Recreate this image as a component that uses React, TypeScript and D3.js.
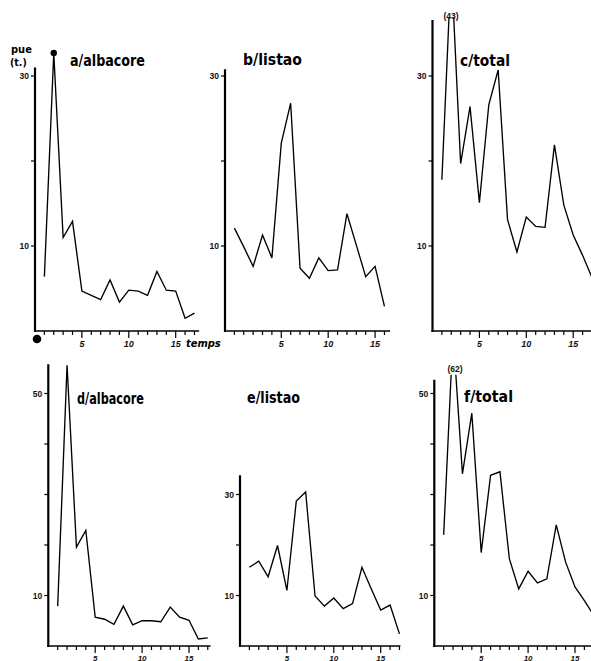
import React from "react";
import * as d3 from "d3";

// ---- data ----
const periods = [1, 2, 3, 4, 5, 6, 7, 8, 9, 10, 11, 12, 13, 14, 15, 16, 17];
const periodsB = [0, 1, 2, 3, 4, 5, 6, 7, 8, 9, 10, 11, 12, 13, 14, 15, 16];

const albacoreA = [6.4, 32.7, 11.0, 12.9, 4.7, 4.2, 3.7, 6.0, 3.4, 4.8, 4.7, 4.2, 7.0, 4.8, 4.7, 1.5, 2.1];
const listaoB = [12.1, 9.9, 7.6, 11.3, 8.6, 22.1, 26.8, 7.4, 6.2, 8.6, 7.1, 7.2, 13.8, 10.1, 6.4, 7.6, 2.9];
const totalC = [17.8, 43, 19.7, 26.4, 15.1, 26.6, 30.7, 13.1, 9.3, 13.4, 12.3, 12.2, 21.9, 14.8, 11.3, 8.9, 6.3];
const albacoreD = [7.9, 55.6, 19.6, 22.9, 5.7, 5.3, 4.3, 7.9, 4.2, 5.0, 5.0, 4.8, 7.7, 5.7, 5.1, 1.4, 1.6];
const listaoE = [15.6, 16.8, 13.7, 19.9, 11.0, 28.7, 30.5, 9.9, 7.9, 9.5, 7.4, 8.4, 15.6, 11.3, 7.1, 8.1, 2.4];
const totalF = [22.0, 62, 34.1, 46.1, 18.5, 33.8, 34.5, 17.3, 11.3, 14.8, 12.5, 13.3, 24.0, 16.6, 11.7, 9.0, 6.1];

const titles = ["a/albacore", "b/listao", "c/total", "d/albacore", "e/listao", "f/total"];
const yTicksTop = [10, 20, 30];
const yTicksBottomWide = [10, 20, 30, 40, 50];
const yLabelsTop = [10, 30];
const yLabelsBottom = [10, 50];
const yLabelsE = [10, 30];
const xLabelTicks = [5, 10, 15];
const peakLabels = ["(43)", "(62)"];

// ---- layout ----
const W = 591;
const H = 661;
const UNIT = 9.38;

type Panel = {
  id: string;
  title: string;
  times: number[];
  values: number[];
  axisX: number;
  xStart: number;
  xLen: number;
  y0: number;
  pxPerUnit: number;
  yMax: number;
  yTicks: number[];
  yLabels: number[];
  titlePos: [number, number, number];
  clipTop?: number;
  peakLabel?: string;
  peakLabelPos?: [number, number];
  tickLabelY: number;
  tickLabelSize: number;
};

const panels: Panel[] = [
  { id: "a", title: titles[0], times: periods, values: albacoreA, axisX: 35, xStart: 0, xLen: 17.5, y0: 331, pxPerUnit: 8.5, yMax: 31, yTicks: yTicksTop, yLabels: yLabelsTop, titlePos: [70, 66, 75], tickLabelY: 347, tickLabelSize: 9 },
  { id: "b", title: titles[1], times: periodsB, values: listaoB, axisX: 225, xStart: -1, xLen: 17.6, y0: 331, pxPerUnit: 8.5, yMax: 30.8, yTicks: yTicksTop, yLabels: yLabelsTop, titlePos: [243, 65, 59], tickLabelY: 347, tickLabelSize: 9 },
  { id: "c", title: titles[2], times: periods, values: totalC, axisX: 432.5, xStart: 0, xLen: 17.6, y0: 331, pxPerUnit: 8.5, yMax: 36.6, yTicks: yTicksTop, yLabels: yLabelsTop, titlePos: [460, 66, 50], clipTop: 36.9, peakLabel: peakLabels[0], peakLabelPos: [451, 19], tickLabelY: 347, tickLabelSize: 9 },
  { id: "d", title: titles[3], times: periods, values: albacoreD, axisX: 48.3, xStart: 0, xLen: 17.3, y0: 646, pxPerUnit: 5.05, yMax: 55.8, yTicks: yTicksBottomWide, yLabels: yLabelsBottom, titlePos: [77, 404, 67], tickLabelY: 660.5, tickLabelSize: 8 },
  { id: "e", title: titles[4], times: periods, values: listaoE, axisX: 240, xStart: 0, xLen: 17.1, y0: 646, pxPerUnit: 5.05, yMax: 33.8, yTicks: yTicksTop, yLabels: yLabelsE, titlePos: [247, 403, 53], tickLabelY: 660.5, tickLabelSize: 8 },
  { id: "f", title: titles[5], times: periods, values: totalF, axisX: 434.3, xStart: 0, xLen: 17.6, y0: 646, pxPerUnit: 5.05, yMax: 52.7, yTicks: yTicksBottomWide, yLabels: yLabelsBottom, titlePos: [464, 402, 49], clipTop: 53.7, peakLabel: peakLabels[1], peakLabelPos: [455, 372], tickLabelY: 660.5, tickLabelSize: 8 },
];

const titleFont = "'DejaVu Sans Condensed', 'DejaVu Sans', sans-serif";
const tickFont = "'Liberation Sans', Arial, sans-serif";

function PanelView({ p }: { p: Panel }) {
  const x = d3
    .scaleLinear()
    .domain([p.xStart, p.xStart + p.xLen])
    .range([p.axisX, p.axisX + p.xLen * UNIT]);
  const yTopPx = p.y0 - p.yMax * p.pxPerUnit;
  const y = d3.scaleLinear().domain([0, p.yMax]).range([p.y0, yTopPx]);

  const line = d3
    .line<number>()
    .x((_, i) => x(p.times[i]))
    .y((v) => y(v));
  const path = line(p.values) || "";

  const xTicks = d3.range(Math.ceil(p.xStart + 1), Math.floor(p.xStart + p.xLen) + 1);
  const clipId = `clip-${p.id}`;

  return (
    <g>
      {p.clipTop !== undefined && (
        <defs>
          <clipPath id={clipId}>
            <rect x={p.axisX} y={y(p.clipTop)} width={W - p.axisX} height={p.y0 - y(p.clipTop)} />
          </clipPath>
        </defs>
      )}
      <line x1={p.axisX} x2={p.axisX} y1={yTopPx} y2={p.y0 + 1} stroke="#000" strokeWidth={2.2} />
      {p.yTicks.map((t) => (
        <line key={t} x1={p.axisX - 4} x2={p.axisX} y1={y(t)} y2={y(t)} stroke="#000" strokeWidth={1.2} />
      ))}
      {p.yLabels.map((t) => (
        <text
          key={t}
          x={p.axisX - 6}
          y={y(t) + 3}
          textAnchor="end"
          fontFamily={tickFont}
          fontSize={8.5}
          fontWeight="bold"
          fill="#111"
        >
          {t}
        </text>
      ))}
      <line x1={p.axisX - 1} x2={x(p.xStart + p.xLen)} y1={p.y0} y2={p.y0} stroke="#000" strokeWidth={1.6} />
      {xTicks.map((t) => (
        <line
          key={t}
          x1={x(t)}
          x2={x(t)}
          y1={p.y0}
          y2={p.y0 + (xLabelTicks.includes(t) ? 7 : 4)}
          stroke="#000"
          strokeWidth={1.2}
        />
      ))}
      {xLabelTicks.map((t) => (
        <text
          key={t}
          x={x(t)}
          y={p.tickLabelY}
          textAnchor="middle"
          fontFamily={tickFont}
          fontStyle="italic"
          fontWeight="bold"
          fontSize={p.tickLabelSize}
          fill="#111"
        >
          {t}
        </text>
      ))}
      <path
        d={path}
        fill="none"
        stroke="#000"
        strokeWidth={1.35}
        strokeLinejoin="miter"
        clipPath={p.clipTop !== undefined ? `url(#${clipId})` : undefined}
      />
      {p.peakLabel && p.peakLabelPos && (
        <text
          x={p.peakLabelPos[0]}
          y={p.peakLabelPos[1]}
          textAnchor="middle"
          fontFamily={tickFont}
          fontSize={8.5}
          fontWeight="bold"
          fill="#111"
        >
          {p.peakLabel}
        </text>
      )}
      <text
        x={p.titlePos[0]}
        y={p.titlePos[1]}
        fontFamily={titleFont}
        fontWeight="bold"
        fontSize={15}
        textLength={p.titlePos[2]}
        lengthAdjust="spacingAndGlyphs"
        fill="#000"
      >
        {p.title}
      </text>
    </g>
  );
}

export default function App() {
  const pa = panels[0];
  const xa = d3.scaleLinear().domain([pa.xStart, pa.xStart + pa.xLen]).range([pa.axisX, pa.axisX + pa.xLen * UNIT]);
  const ya = d3.scaleLinear().domain([0, pa.yMax]).range([pa.y0, pa.y0 - pa.yMax * pa.pxPerUnit]);
  return (
    <svg
      width={W}
      height={H}
      viewBox={`0 0 ${W} ${H}`}
      style={{ position: "absolute", left: 0, top: 0, background: "#fff" }}
    >
      <rect x={0} y={0} width={W} height={H} fill="#fff" />
      {panels.map((p) => (
        <PanelView key={p.id} p={p} />
      ))}
      <text x={11} y={53} fontFamily={titleFont} fontWeight="bold" fontSize={11} fill="#000">
        pue
      </text>
      <text x={10} y={66} fontFamily={titleFont} fontWeight="bold" fontSize={10.5} fill="#000">
        (t.)
      </text>
      <text x={186} y={347} fontFamily={titleFont} fontWeight="bold" fontStyle="italic" fontSize={11} fill="#000">
        temps
      </text>
      <circle cx={xa(periods[1])} cy={ya(albacoreA[1])} r={3.2} fill="#000" />
      <circle cx={xa(0) + 2} cy={ya(0) + 8} r={4.3} fill="#000" />
    </svg>
  );
}
